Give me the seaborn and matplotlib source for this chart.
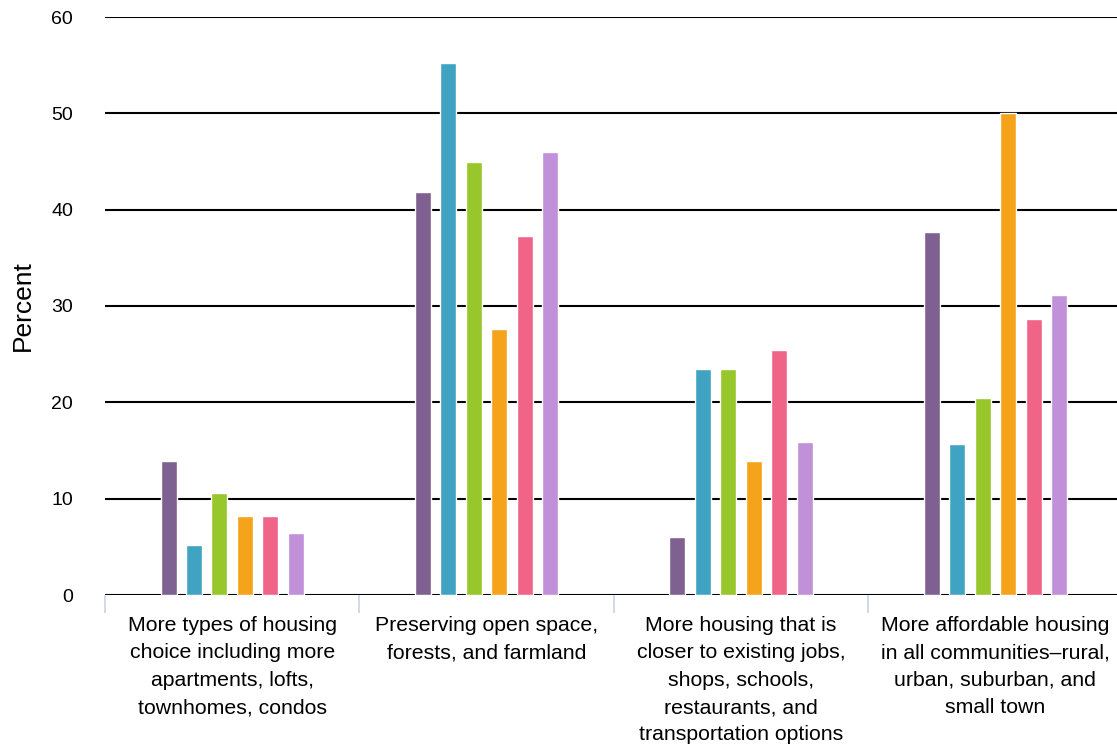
import matplotlib
matplotlib.use("Agg")
import matplotlib.pyplot as plt
import pandas as pd
import seaborn as sns

# Survey priorities (percent of respondents), one list per respondent group
categories = [
    "More types of housing\nchoice including more\napartments, lofts,\ntownhomes, condos",
    "Preserving open space,\nforests, and farmland",
    "More housing that is\ncloser to existing jobs,\nshops, schools,\nrestaurants, and\ntransportation options",
    "More affordable housing\nin all communities\u2013rural,\nurban, suburban, and\nsmall town",
]
groups = ["Group 1", "Group 2", "Group 3", "Group 4", "Group 5", "Group 6"]
group_1 = [13.9, 41.8, 6.0, 37.7]
group_2 = [5.2, 55.2, 23.5, 15.7]
group_3 = [10.6, 45.0, 23.5, 20.4]
group_4 = [8.2, 27.6, 13.9, 50.0]
group_5 = [8.2, 37.3, 25.4, 28.7]
group_6 = [6.4, 46.0, 15.9, 31.1]
y_ticks = [0, 10, 20, 30, 40, 50, 60]

colors = ["#7e6190", "#40a3c2", "#97c72a", "#f4a31a", "#f06488", "#c090d8"]

series = [group_1, group_2, group_3, group_4, group_5, group_6]
rows = []
for name, values in zip(groups, series):
    for cat, v in zip(categories, values):
        rows.append({"category": cat, "group": name, "percent": v})
df = pd.DataFrame(rows)

sns.set_theme(style="white")
plt.rcParams["font.family"] = ["Liberation Sans", "DejaVu Sans"]

fig = plt.figure(figsize=(11.17, 7.46), dpi=100)
ax = fig.add_axes([105 / 1117, 151 / 746, 4 * 254.4 / 1117, 578 / 746])

sns.barplot(
    data=df, x="category", y="percent", hue="group",
    order=categories, hue_order=groups, palette=colors,
    width=0.6, gap=0.37, saturation=1, errorbar=None,
    legend=False, ax=ax, zorder=3,
)

ax.set_ylim(0, 60)
ax.set_xlim(-0.5, 3.5)
ax.set_yticks(y_ticks)
ax.set_axisbelow(True)
ax.yaxis.grid(True, color="black", linewidth=1.5)
ax.xaxis.grid(False)
for s in ax.spines.values():
    s.set_visible(False)

ax.set_xlabel("")
ax.set_ylabel("Percent", fontsize=19, color="black")
ax.yaxis.set_label_coords(-0.069, 0.5)

ax.tick_params(axis="y", length=0, pad=23, labelsize=14, labelcolor="black")
ax.tick_params(axis="x", which="major", length=0, pad=15, labelsize=15.3, labelcolor="black")
for lbl in ax.get_xticklabels():
    lbl.set_linespacing(1.56)
    lbl.set_verticalalignment("top")

# light separators between categories
ax.set_xticks([-0.5, 0.5, 1.5, 2.5], minor=True)
ax.tick_params(axis="x", which="minor", length=13, width=1.2, color="#c8d2e8",
               direction="out", bottom=True)

fig.savefig("out.png", dpi=100, facecolor="white")
